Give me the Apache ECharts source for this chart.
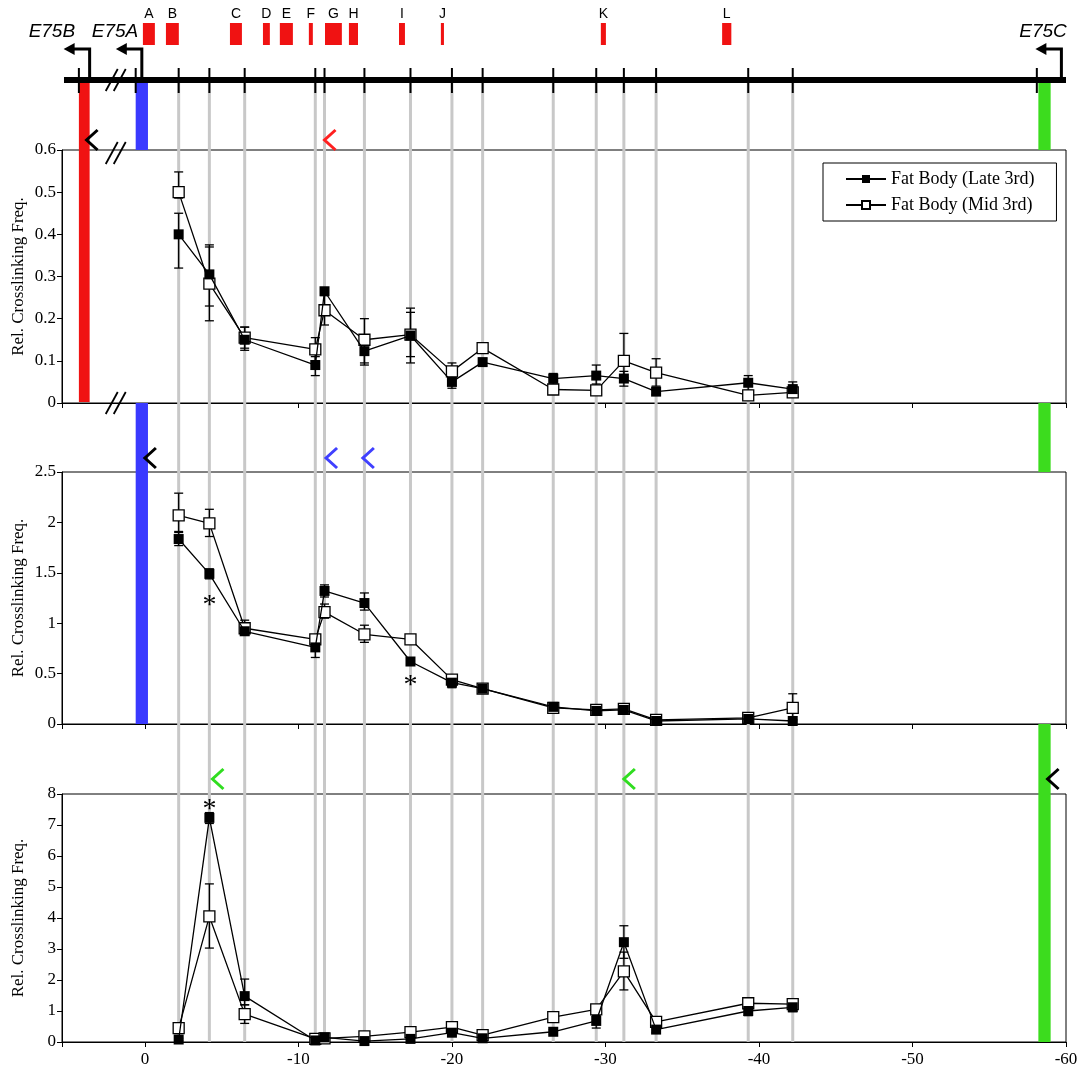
<!DOCTYPE html>
<html>
<head>
<meta charset="utf-8">
<script src="https://cdn.jsdelivr.net/npm/echarts@6/dist/echarts.min.js"></script>
<style>
html, body { margin: 0; background: #fff; }
#main { width: 1077px; height: 1069px; }
</style>
</head>
<body>
<div id="main"></div>
<script>
// probe positions (kb, relative to E75A start)
var probeX = [-2.2, -4.2, -6.5, -11.1, -11.7, -14.3, -17.3, -20.0, -22.0, -26.6, -29.4, -31.2, -33.3, -39.3, -42.2];

// panel 1 (E75B anchor)
var lateP1   = [0.40, 0.305, 0.150, 0.090, 0.265, 0.123, 0.160, 0.050, 0.097, 0.058, 0.065, 0.058, 0.027, 0.048, 0.033];
var lateP1Lo = [0.32, 0.23, 0.125, 0.065, 0.255, 0.09, 0.11, 0.035, 0.09, 0.045, 0.04, 0.04, 0.02, 0.03, 0.02];
var lateP1Hi = [0.45, 0.375, 0.18, 0.11, 0.27, 0.16, 0.215, 0.065, 0.105, 0.07, 0.09, 0.075, 0.035, 0.065, 0.05];
var midP1    = [0.50, 0.283, 0.155, 0.127, 0.22, 0.15, 0.162, 0.075, 0.13, 0.032, 0.03, 0.10, 0.072, 0.018, 0.025];
var midP1Lo  = [0.486, 0.195, 0.13, 0.10, 0.185, 0.095, 0.095, 0.055, 0.12, 0.025, 0.02, 0.06, 0.04, 0.01, 0.015];
var midP1Hi  = [0.548, 0.37, 0.18, 0.155, 0.26, 0.2, 0.225, 0.095, 0.135, 0.04, 0.045, 0.165, 0.105, 0.025, 0.04];

// panel 2 (E75A anchor)
var lateP2   = [1.835, 1.49, 0.92, 0.76, 1.32, 1.20, 0.62, 0.41, 0.35, 0.17, 0.13, 0.14, 0.03, 0.05, 0.03];
var lateP2Lo = [1.77, 1.44, 0.88, 0.66, 1.26, 1.13, 0.59, 0.36, 0.33, 0.14, 0.11, 0.12, 0.02, 0.04, 0.02];
var lateP2Hi = [1.90, 1.54, 0.96, 0.80, 1.38, 1.30, 0.65, 0.45, 0.37, 0.19, 0.15, 0.16, 0.04, 0.06, 0.04];
var midP2    = [2.07, 1.99, 0.95, 0.84, 1.11, 0.89, 0.84, 0.44, 0.35, 0.16, 0.14, 0.15, 0.04, 0.06, 0.16];
var midP2Lo  = [1.91, 1.86, 0.90, 0.80, 1.05, 0.81, 0.80, 0.42, 0.33, 0.13, 0.12, 0.12, 0.03, 0.05, 0.04];
var midP2Hi  = [2.29, 2.13, 1.03, 0.88, 1.19, 0.98, 0.88, 0.47, 0.37, 0.20, 0.16, 0.17, 0.05, 0.07, 0.30];

// panel 3 (E75C anchor)
var lateP3   = [0.08, 7.23, 1.48, 0.05, 0.15, 0.03, 0.10, 0.30, 0.12, 0.33, 0.68, 3.22, 0.40, 1.00, 1.12];
var lateP3Lo = [0.05, 7.05, 1.20, 0.02, 0.10, 0.01, 0.06, 0.20, 0.08, 0.25, 0.45, 2.70, 0.30, 0.85, 0.98];
var lateP3Hi = [0.12, 7.40, 2.03, 0.08, 0.20, 0.05, 0.14, 0.40, 0.16, 0.40, 0.90, 3.75, 0.50, 1.15, 1.26];
var midP3    = [0.45, 4.05, 0.90, 0.10, 0.12, 0.18, 0.32, 0.48, 0.22, 0.80, 1.05, 2.28, 0.65, 1.25, 1.22];
var midP3Lo  = [0.35, 3.03, 0.60, 0.05, 0.08, 0.12, 0.25, 0.40, 0.17, 0.70, 0.85, 1.68, 0.55, 1.15, 1.00];
var midP3Hi  = [0.55, 5.10, 1.20, 0.15, 0.16, 0.24, 0.40, 0.56, 0.27, 0.90, 1.20, 2.90, 0.75, 1.35, 1.35];

var yMax = [0.6, 2.5, 8];
var yStep = [0.1, 0.5, 1];
var xTickLabels = [0, -10, -20, -30, -40, -50, -60];

// regions A-L on the map
var regionNames = ['A', 'B', 'C', 'D', 'E', 'F', 'G', 'H', 'I', 'J', 'K', 'L'];
var regionStart = [0.13, -1.37, -5.54, -7.69, -8.79, -10.68, -11.73, -13.29, -16.55, -19.28, -29.7, -37.6];
var regionEnd   = [-0.65, -2.21, -6.32, -8.14, -9.64, -10.94, -12.83, -13.88, -16.94, -19.48, -30.03, -38.2];

// promoters
var geneNames  = ['E75B', 'E75A', 'E75C'];
var geneTick   = [4.3, 0.6, -58.1];
var geneStem   = [3.6, 0.2, -59.7];
var geneLabelX = [6.06, 1.95, -58.5];
var geneBarFrom = [4.3, 0.6, -58.2];
var geneBarTo   = [3.6, -0.2, -59.0];
var geneColors  = ['#f01212', '#3a3aff', '#3cdc1e'];

// anchor chevrons: panel, x, colour
var chevPanel = [0, 0, 1, 1, 1, 2, 2, 2];
var chevX     = [3.8, -11.7, 0.0, -11.8, -14.2, -4.4, -31.2, -58.8];
var chevColor = ['#000', '#ff2020', '#000', '#4040ff', '#4040ff', '#30dd20', '#30dd20', '#000'];

// significance asterisks: panel, x, y
var starPanel = [1, 1, 2];
var starX = [-4.2, -17.3, -4.2];
var starY = [1.23, 0.44, 7.7];

var X_MIN = -60, X_MAX = 5.4;
var panelTop = [150, 472, 794];
var panelBottom = [403, 724, 1042];
var GENOME_Y = 80;
var serif = 'Liberation Serif', sans = 'Liberation Sans';
var seriesNames = ['Fat Body (Late 3rd)', 'Fat Body (Mid 3rd)'];

var chart = echarts.init(document.getElementById('main'));

function zip2(xs, ys) { return xs.map(function (x, i) { return [x, ys[i]]; }); }
function zip3(xs, lo, hi) { return xs.map(function (x, i) { return [x, lo[i], hi[i]]; }); }

function errRender(params, api) {
    var x = api.value(0);
    var p1 = api.coord([x, api.value(1)]);
    var p2 = api.coord([x, api.value(2)]);
    var w = 4.5, st = { stroke: '#000', lineWidth: 1.3 };
    return { type: 'group', children: [
        { type: 'line', shape: { x1: p1[0], y1: p1[1], x2: p2[0], y2: p2[1] }, style: st },
        { type: 'line', shape: { x1: p1[0] - w, y1: p1[1], x2: p1[0] + w, y2: p1[1] }, style: st },
        { type: 'line', shape: { x1: p2[0] - w, y1: p2[1], x2: p2[0] + w, y2: p2[1] }, style: st }
    ] };
}

var lates = [lateP1, lateP2, lateP3], lateLo = [lateP1Lo, lateP2Lo, lateP3Lo], lateHi = [lateP1Hi, lateP2Hi, lateP3Hi];
var mids = [midP1, midP2, midP3], midLo = [midP1Lo, midP2Lo, midP3Lo], midHi = [midP1Hi, midP2Hi, midP3Hi];

var grid = [], xAxis = [], yAxis = [], series = [];
for (var i = 0; i < 3; i++) {
    grid.push({ left: 62, width: 1004, top: panelTop[i], height: panelBottom[i] - panelTop[i],
        outerBoundsMode: 'none', containLabel: false,
        show: true, borderColor: '#000', borderWidth: 1, backgroundColor: 'transparent' });
    xAxis.push({
        type: 'value', gridIndex: i, min: X_MIN, max: X_MAX, interval: 10, inverse: true,
        axisLine: { show: true, onZero: false, lineStyle: { color: '#000', width: 1 } },
        axisTick: { show: true, length: 5, lineStyle: { color: '#000' } },
        splitLine: { show: false },
        axisLabel: {
            show: i === 2, color: '#000', fontFamily: serif, fontSize: 17, margin: 9,
            formatter: function (v) { return xTickLabels.indexOf(v) >= 0 ? String(v) : ''; }
        }
    });
    yAxis.push({
        type: 'value', gridIndex: i, min: 0, max: yMax[i], interval: yStep[i],
        name: 'Rel. Crosslinking Freq.', nameLocation: 'middle', nameGap: 35, nameMoveOverlap: false,
        nameTextStyle: { fontFamily: serif, fontSize: 17, color: '#000' },
        axisLine: { show: true, onZero: false, lineStyle: { color: '#000', width: 1 } },
        axisTick: { show: true, length: 5, lineStyle: { color: '#000' } },
        splitLine: { show: false },
        axisLabel: { color: '#000', fontFamily: serif, fontSize: 17, margin: 6 }
    });
    series.push({
        type: 'custom', xAxisIndex: i, yAxisIndex: i, renderItem: errRender, z: 4,
        data: zip3(probeX, lateLo[i], lateHi[i]), silent: true
    });
    series.push({
        type: 'custom', xAxisIndex: i, yAxisIndex: i, renderItem: errRender, z: 4,
        data: zip3(probeX, midLo[i], midHi[i]), silent: true
    });
    series.push({
        name: seriesNames[0], type: 'line', xAxisIndex: i, yAxisIndex: i, z: 6,
        data: zip2(probeX, lates[i]), symbol: 'rect', symbolSize: 10,
        itemStyle: { color: '#000' }, lineStyle: { color: '#000', width: 1.3 }
    });
    series.push({
        name: seriesNames[1], type: 'line', xAxisIndex: i, yAxisIndex: i, z: 5,
        data: zip2(probeX, mids[i]), symbol: 'rect', symbolSize: 11,
        itemStyle: { color: '#fff', borderColor: '#000', borderWidth: 1.3 },
        lineStyle: { color: '#000', width: 1.3 }
    });
}

// overlay grid: y in page pixels, x in kb
grid.push({ left: 62, width: 1004, top: 0, height: 1069, show: false, outerBoundsMode: 'none' });
xAxis.push({ type: 'value', gridIndex: 3, min: X_MIN, max: X_MAX, inverse: true, show: false });
yAxis.push({ type: 'value', gridIndex: 3, min: 0, max: 1069, inverse: true, show: false });

function overlay(data, render, z) {
    series.push({ type: 'custom', xAxisIndex: 3, yAxisIndex: 3, data: data, renderItem: render, z: z, silent: true, clip: false });
}

// grey probe lines
overlay(probeX.map(function (x) { return [x]; }), function (p, api) {
    var a = api.coord([api.value(0), GENOME_Y]), b = api.coord([api.value(0), panelBottom[2]]);
    return { type: 'line', shape: { x1: a[0], y1: a[1], x2: b[0], y2: b[1] }, style: { stroke: '#c8c8c8', lineWidth: 3 } };
}, 1);

// promoter bars
var barData = [];
geneNames.forEach(function (g, k) {
    var segs = k === 0 ? [[GENOME_Y, panelBottom[0] - 1]]
        : k === 1 ? [[GENOME_Y, panelTop[0]], [panelBottom[0], panelBottom[1]]]
        : [[GENOME_Y, panelTop[0]], [panelBottom[0], panelTop[1]], [panelBottom[1], panelBottom[2]]];
    segs.forEach(function (s) { barData.push([geneBarFrom[k], geneBarTo[k], s[0], s[1], k]); });
});
overlay(barData, function (p, api) {
    var a = api.coord([api.value(0), api.value(2)]), b = api.coord([api.value(1), api.value(3)]);
    return { type: 'rect', shape: { x: a[0], y: a[1], width: b[0] - a[0], height: b[1] - a[1] },
        style: { fill: geneColors[api.value(4)] } };
}, 2);

// genomic line with ticks
overlay([[X_MAX - 0.13, X_MIN]], function (p, api) {
    var a = api.coord([api.value(0), GENOME_Y - 3]), b = api.coord([api.value(1), GENOME_Y + 3]);
    var ch = [{ type: 'rect', shape: { x: a[0], y: a[1], width: b[0] - a[0], height: b[1] - a[1] }, style: { fill: '#000' } }];
    geneTick.concat(probeX).forEach(function (x) {
        var t1 = api.coord([x, GENOME_Y - 12]), t2 = api.coord([x, GENOME_Y + 13]);
        ch.push({ type: 'line', shape: { x1: t1[0], y1: t1[1], x2: t2[0], y2: t2[1] }, style: { stroke: '#000', lineWidth: 2 } });
    });
    return { type: 'group', children: ch };
}, 3);

// region boxes A-L
overlay(regionNames.map(function (n, k) { return [regionStart[k], regionEnd[k], k]; }), function (p, api) {
    var a = api.coord([api.value(0), 23]), b = api.coord([api.value(1), 45]);
    return { type: 'group', children: [
        { type: 'rect', shape: { x: a[0], y: a[1], width: b[0] - a[0], height: b[1] - a[1] }, style: { fill: '#f01212' } },
        { type: 'text', x: (a[0] + b[0]) / 2, y: 14,
          style: { text: regionNames[api.value(2)], fill: '#000', font: '14px ' + sans,
                   align: 'center', verticalAlign: 'middle', textAlign: 'center', textVerticalAlign: 'middle' } }
    ] };
}, 3);

// promoter arrows and names
overlay(geneNames.map(function (g, k) { return [geneStem[k], k]; }), function (p, api) {
    var k = api.value(1);
    var base = api.coord([api.value(0), GENOME_Y]);
    var top = base[1] - 31;
    var tipX = base[0] - 26;
    var lab = api.coord([geneLabelX[k], 32]);
    return { type: 'group', children: [
        { type: 'polyline', shape: { points: [[base[0], base[1]], [base[0], top], [tipX + 9, top]] },
          style: { stroke: '#000', lineWidth: 3, fill: null } },
        { type: 'polygon', shape: { points: [[tipX, top], [tipX + 11, top - 6], [tipX + 11, top + 6]] }, style: { fill: '#000' } },
        { type: 'text', x: lab[0], y: lab[1],
          style: { text: geneNames[k], fill: '#000', font: 'italic 19px ' + sans,
                   align: 'center', verticalAlign: 'middle', textAlign: 'center', textVerticalAlign: 'middle' } }
    ] };
}, 4);

// axis breaks
overlay([[GENOME_Y], [panelTop[0] + 3], [panelBottom[0]]], function (p, api) {
    var c = api.coord([1.9, api.value(0)]);
    var ch = [];
    [-4, 4].forEach(function (d) {
        ch.push({ type: 'line', shape: { x1: c[0] + d - 6, y1: c[1] + 11, x2: c[0] + d + 6, y2: c[1] - 11 },
            style: { stroke: '#000', lineWidth: 1.8 } });
    });
    return { type: 'group', children: ch };
}, 4);

// chevrons marking anchor fragments
overlay(chevX.map(function (x, k) { return [x, k]; }), function (p, api) {
    var k = api.value(1);
    var yc = [140, 458, 779][chevPanel[k]];
    var c = api.coord([api.value(0), yc]);
    return { type: 'polyline', shape: { points: [[c[0] + 11, c[1] - 10], [c[0], c[1]], [c[0] + 11, c[1] + 10]] },
        style: { stroke: chevColor[k], lineWidth: 3, fill: null } };
}, 4);

// asterisks
for (var s = 0; s < starX.length; s++) {
    series.push({
        type: 'custom', xAxisIndex: starPanel[s], yAxisIndex: starPanel[s], data: [[starX[s], starY[s]]], silent: true, z: 7,
        renderItem: function (p, api) {
            var c = api.coord([api.value(0), api.value(1)]);
            return { type: 'text', x: c[0], y: c[1] + 6,
                style: { text: '*', fill: '#000', font: '28px ' + serif,
                         align: 'center', verticalAlign: 'middle', textAlign: 'center', textVerticalAlign: 'middle' } };
        }
    });
}

var option = {
    backgroundColor: '#fff',
    animation: false,
    grid: grid,
    xAxis: xAxis,
    yAxis: yAxis,
    legend: {
        data: seriesNames, orient: 'vertical', left: 823, top: 163,
        selectedMode: false, itemWidth: 40, itemHeight: 10, itemGap: 8,
        padding: [7, 22, 7, 22], backgroundColor: '#fff', borderColor: '#000', borderWidth: 1,
        textStyle: { fontFamily: serif, fontSize: 18, color: '#000' }
    },
    series: series
};

chart.setOption(option);
window.addEventListener('resize', function () {
    chart.resize();
});
</script>
</body>
</html>
